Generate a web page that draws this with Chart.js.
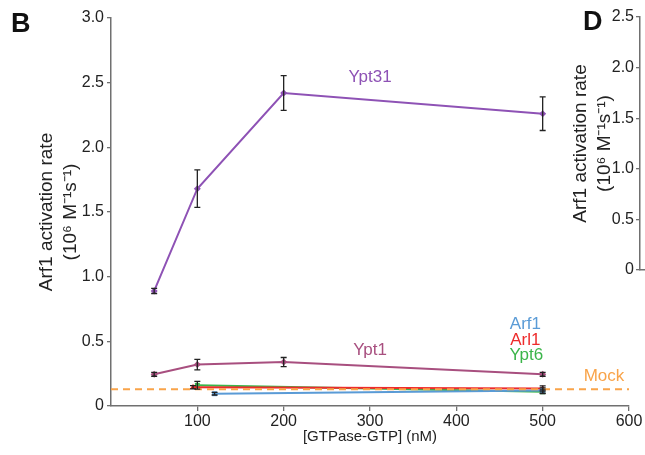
<!DOCTYPE html>
<html>
<head>
<meta charset="utf-8">
<script src="https://cdn.jsdelivr.net/npm/chart.js@4"></script>
<style>
  html, body { margin: 0; padding: 0; background: #fff; }
  body { width: 645px; height: 455px; overflow: hidden; position: relative; font-family: "Liberation Sans", Arial, sans-serif; }
  #boxB { position: absolute; left: 0; top: 0; width: 645px; height: 455px; }
  #boxD { position: absolute; left: 540px; top: 0; width: 300px; height: 300px; }
  .panel { position: absolute; font-weight: bold; font-size: 27px; color: #111; }
</style>
</head>
<body>
<div id="boxB"><canvas id="chartB"></canvas></div>
<div id="boxD"><canvas id="chartD"></canvas></div>
<div class="panel" style="left:11px; top:8px;">B</div>
<div class="panel" style="left:583px; top:6px;">D</div>
<script>
// 濃度 (nM)
const concYpt31 = [50, 100, 200, 500];
const concYpt1 = [50, 100, 200, 500];
const concArf1 = [120, 500];
const concArl1 = [95, 500];
const concYpt6 = [100, 500];

// 活性化速度 (10^6 M^-1 s^-1)
const ypt31 = [0.89, 1.68, 2.42, 2.26];
const ypt31Err = [0.02, 0.145, 0.135, 0.13];
const ypt1 = [0.245, 0.32, 0.34, 0.245];
const ypt1Err = [0.015, 0.04, 0.035, 0.015];
const arf1 = [0.095, 0.12];
const arf1Err = [0.01, 0.02];
const arl1 = [0.145, 0.135];
const arl1Err = [0.012, 0.02];
const ypt6 = [0.16, 0.11];
const ypt6Err = [0.03, 0.015];
const mockRate = 0.13;

// 目盛り
const xTicks = [100, 200, 300, 400, 500, 600];
const yTicks = [0, 0.5, 1.0, 1.5, 2.0, 2.5, 3.0];
const yTicksD = [0, 0.5, 1.0, 1.5, 2.0, 2.5];

const FONT = '"Liberation Sans", Arial, sans-serif';
Chart.defaults.font.family = FONT;
Chart.defaults.color = '#222';

const AXIS = '#707070';

// 系列ラベル（データ座標）
const seriesLabels = [
  { text: 'Ypt31', x: 300, y: 2.54, color: '#8e52b5' },
  { text: 'Ypt1', x: 300, y: 0.43, color: '#a84f7f' },
  { text: 'Arf1', x: 480, y: 0.63, color: '#5a9bd6' },
  { text: 'Arl1', x: 480, y: 0.505, color: '#ee2b2b' },
  { text: 'Ypt6', x: 481, y: 0.39, color: '#3bb54a' },
  { text: 'Mock', x: 571, y: 0.23, color: '#f9a44a' }
];

function pts(xs, ys) {
  return xs.map((x, i) => ({ x: x, y: ys[i] }));
}

function series(label, xs, ys, err, color, style) {
  return {
    label: label,
    data: pts(xs, ys),
    err: err,
    borderColor: color,
    backgroundColor: color,
    borderWidth: 2,
    pointStyle: style,
    pointRadius: 3.5,
    pointBorderWidth: 0,
    tension: 0
  };
}

// エラーバー
const errorBars = {
  id: 'errorBars',
  afterDatasetsDraw(chart) {
    const ctx = chart.ctx;
    const xs = chart.scales.x, ys = chart.scales.y;
    ctx.save();
    ctx.strokeStyle = '#222';
    ctx.lineWidth = 1.3;
    chart.data.datasets.forEach(ds => {
      if (!ds.err) return;
      ds.data.forEach((p, i) => {
        const px = xs.getPixelForValue(p.x);
        const top = ys.getPixelForValue(p.y + ds.err[i]);
        const bot = ys.getPixelForValue(p.y - ds.err[i]);
        ctx.beginPath();
        ctx.moveTo(px, top); ctx.lineTo(px, bot);
        ctx.moveTo(px - 3, top); ctx.lineTo(px + 3, top);
        ctx.moveTo(px - 3, bot); ctx.lineTo(px + 3, bot);
        ctx.stroke();
      });
    });
    ctx.restore();
  }
};

// ラベル描画
const labelPlugin = {
  id: 'seriesLabels',
  afterDraw(chart) {
    const ctx = chart.ctx;
    const xs = chart.scales.x, ys = chart.scales.y;
    ctx.save();
    ctx.font = '17px ' + FONT;
    ctx.textAlign = 'center';
    ctx.textBaseline = 'middle';
    seriesLabels.forEach(l => {
      ctx.fillStyle = l.color;
      ctx.fillText(l.text, xs.getPixelForValue(l.x), ys.getPixelForValue(l.y));
    });
    ctx.restore();
  }
};

const fmt = v => (v === 0 ? '0' : v.toFixed(1));

new Chart(document.getElementById('chartB'), {
  type: 'line',
  data: {
    datasets: [
      {
        label: 'Mock',
        data: [{ x: 0, y: mockRate }, { x: 600, y: mockRate }],
        borderColor: '#f9a44a',
        borderWidth: 2,
        borderDash: [7, 5],
        pointRadius: 0
      },
      series('Arf1', concArf1, arf1, arf1Err, '#5a9bd6', 'rect'),
      series('Arl1', concArl1, arl1, arl1Err, '#ee2b2b', 'triangle'),
      series('Ypt6', concYpt6, ypt6, ypt6Err, '#3bb54a', 'rect'),
      series('Ypt1', concYpt1, ypt1, ypt1Err, '#a84f7f', 'rectRot'),
      series('Ypt31', concYpt31, ypt31, ypt31Err, '#8e52b5', 'rectRot')
    ]
  },
  options: {
    responsive: true,
    maintainAspectRatio: false,
    animation: false,
    layout: { padding: { top: 18, right: 16, left: 0, bottom: 0 } },
    plugins: { legend: { display: false }, tooltip: { enabled: false } },
    scales: {
      x: {
        type: 'linear',
        min: 0,
        max: 600,
        afterBuildTicks: s => { s.ticks = xTicks.map(v => ({ value: v })); },
        afterFit: s => { s.height = 49; },
        grid: { drawOnChartArea: false, drawTicks: true, tickLength: 5, color: AXIS, lineWidth: 1.3 },
        border: { color: AXIS, width: 1.5 },
        ticks: { font: { size: 16 }, color: '#222', padding: 1, maxRotation: 0 },
        title: { display: true, text: '[GTPase-GTP] (nM)', font: { size: 15 }, color: '#222', padding: { top: 0, bottom: 9 } }
      },
      y: {
        min: 0,
        max: 3,
        afterBuildTicks: s => { s.ticks = yTicks.map(v => ({ value: v })); },
        afterFit: s => { s.width = 111; },
        grid: { drawOnChartArea: false, drawTicks: true, tickLength: 4, color: AXIS, lineWidth: 1.3 },
        border: { color: AXIS, width: 1.5 },
        ticks: { font: { size: 16 }, color: '#222', padding: 3, callback: fmt },
        title: {
          display: true,
          text: ['Arf1 activation rate', '(10⁶ M⁻¹s⁻¹)'],
          font: { size: 19, lineHeight: 1.3 },
          color: '#222',
          padding: { top: 34, bottom: 0 }
        }
      }
    }
  },
  plugins: [errorBars, labelPlugin]
});

// 右側のパネルD（軸のみ）
new Chart(document.getElementById('chartD'), {
  type: 'line',
  data: { datasets: [] },
  options: {
    responsive: true,
    maintainAspectRatio: false,
    animation: false,
    layout: { padding: { top: 17, right: 0, left: 0, bottom: 22 } },
    plugins: { legend: { display: false }, tooltip: { enabled: false } },
    scales: {
      x: {
        type: 'linear',
        min: 0,
        max: 600,
        grid: { display: false },
        border: { color: AXIS, width: 1.5 },
        ticks: { display: false }
      },
      y: {
        min: 0,
        max: 2.5,
        afterBuildTicks: s => { s.ticks = yTicksD.map(v => ({ value: v })); },
        afterFit: s => { s.width = 100; },
        grid: { drawOnChartArea: false, drawTicks: true, tickLength: 4, color: AXIS, lineWidth: 1.3 },
        border: { color: AXIS, width: 1.5 },
        ticks: { font: { size: 16 }, color: '#222', padding: 2, callback: fmt },
        title: {
          display: true,
          text: ['Arf1 activation rate', '(10⁶ M⁻¹s⁻¹)'],
          font: { size: 19, lineHeight: 1.3 },
          color: '#222',
          padding: { top: 28, bottom: 0 }
        }
      }
    }
  }
});
</script>
</body>
</html>
